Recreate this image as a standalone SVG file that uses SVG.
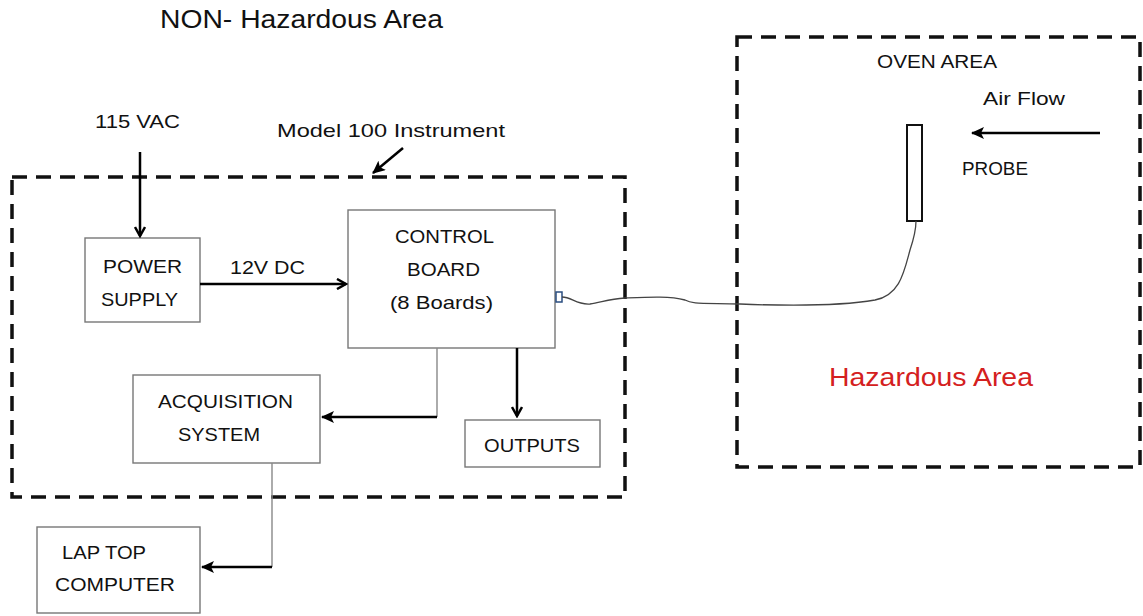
<svg xmlns="http://www.w3.org/2000/svg" width="1143" height="616" viewBox="0 0 1143 616">
<defs>
<marker id="ah" markerWidth="12" markerHeight="12" refX="10" refY="6" orient="auto" markerUnits="userSpaceOnUse">
<path d="M1,1 L10,6 L1,11" fill="none" stroke="#000" stroke-width="2.5"/>
</marker>
<marker id="ahf" markerWidth="14" markerHeight="12" refX="12" refY="6" orient="auto" markerUnits="userSpaceOnUse">
<path d="M0,0 L13,6 L0,12 L3,6 Z" fill="#000"/>
</marker>
</defs>
<style>
text{font-family:"Liberation Sans",Arial,sans-serif;font-size:19px;fill:#111}
.box{fill:#fff;stroke:#777;stroke-width:1.4}
.dash{fill:none;stroke:#111;stroke-width:3.5;stroke-dasharray:15 9}
.arr{fill:none;stroke:#000;stroke-width:2.5}
.gray{fill:none;stroke:#888;stroke-width:1.4}
</style>
<rect width="1143" height="616" fill="#fff"/>
<text x="160" y="28" textLength="283" lengthAdjust="spacingAndGlyphs" style="font-size:25px">NON- Hazardous Area</text>
<g id="instrument">
<rect class="dash" x="12" y="177" width="613" height="320"/>
<text x="277" y="137" textLength="228" lengthAdjust="spacingAndGlyphs">Model 100 Instrument</text>
</g>
<g id="hazardous">
<rect class="dash" x="737" y="37" width="403" height="430"/>
<text x="877" y="68" textLength="120" lengthAdjust="spacingAndGlyphs">OVEN AREA</text>
<text x="983" y="105" textLength="82" lengthAdjust="spacingAndGlyphs">Air Flow</text>
<text x="962" y="175" textLength="66" lengthAdjust="spacingAndGlyphs">PROBE</text>
<text x="829" y="386" textLength="204" lengthAdjust="spacingAndGlyphs" style="font-size:25px;fill:#d42020">Hazardous Area</text>
</g>
<g id="source"><text x="95" y="128" textLength="85" lengthAdjust="spacingAndGlyphs">115 VAC</text></g>
<g id="power">
<rect class="box" x="85" y="238" width="115" height="84"/>
<text x="103" y="273" textLength="79" lengthAdjust="spacingAndGlyphs">POWER</text>
<text x="101" y="306" textLength="77" lengthAdjust="spacingAndGlyphs">SUPPLY</text>
</g>
<g id="control">
<rect class="box" x="348" y="210" width="207" height="138"/>
<text x="395" y="243" textLength="99" lengthAdjust="spacingAndGlyphs">CONTROL</text>
<text x="407" y="276" textLength="73" lengthAdjust="spacingAndGlyphs">BOARD</text>
<text x="390" y="309" textLength="103" lengthAdjust="spacingAndGlyphs">(8 Boards)</text>
<rect x="556" y="292" width="6" height="10" fill="#fff" stroke="#2a4d80" stroke-width="1.5"/>
</g>
<g id="acquisition">
<rect class="box" x="133" y="375" width="187" height="88"/>
<text x="158" y="408" textLength="135" lengthAdjust="spacingAndGlyphs">ACQUISITION</text>
<text x="178" y="441" textLength="82" lengthAdjust="spacingAndGlyphs">SYSTEM</text>
</g>
<g id="outputs">
<rect class="box" x="465" y="420" width="135" height="47"/>
<text x="484" y="452" textLength="96" lengthAdjust="spacingAndGlyphs">OUTPUTS</text>
</g>
<g id="laptop">
<rect class="box" x="37" y="527" width="163" height="86"/>
<text x="62" y="559" textLength="84" lengthAdjust="spacingAndGlyphs">LAP TOP</text>
<text x="55" y="591" textLength="120" lengthAdjust="spacingAndGlyphs">COMPUTER</text>
</g>
<g id="probe">
<rect x="907" y="125" width="15" height="96" fill="#fff" stroke="#111" stroke-width="2"/>
</g>
<g id="connectors">
<line class="arr" x1="140" y1="152" x2="140" y2="236" marker-end="url(#ah)"/>
<line class="arr" x1="200" y1="284" x2="346" y2="284" marker-end="url(#ah)"/>
<text x="230" y="274" textLength="75" lengthAdjust="spacingAndGlyphs">12V DC</text>
<line class="arr" x1="403" y1="148" x2="373" y2="173" marker-end="url(#ahf)"/>
<path class="gray" d="M437,348 V417"/>
<line class="arr" x1="437" y1="417" x2="322" y2="417" marker-end="url(#ahf)"/>
<line class="arr" x1="517" y1="348" x2="517" y2="416" marker-end="url(#ah)"/>
<path class="gray" d="M272,463 V567"/>
<line class="arr" x1="272" y1="567" x2="202" y2="567" marker-end="url(#ahf)"/>
<line class="arr" x1="1100" y1="133" x2="972" y2="133" marker-end="url(#ahf)"/>
<path d="M562,297 C572,297 576,305 590,304 C600,303 608,299 625,298 C650,297 670,296 685,300 C692,304 700,303 740,304 C790,306 840,306 875,300 C900,295 904,272 910,250 C914,238 916,230 916,221" fill="none" stroke="#444" stroke-width="1.3"/>
</g>
</svg>
